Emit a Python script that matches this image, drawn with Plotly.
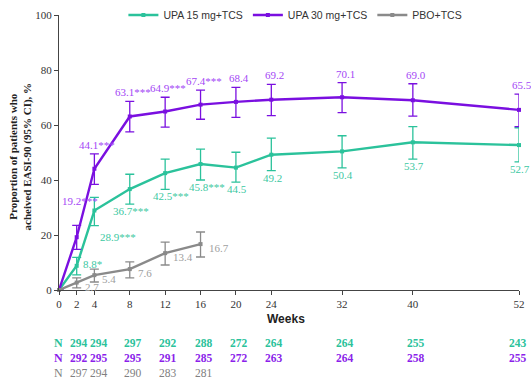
import plotly.graph_objects as go

# ---- data -------------------------------------------------------------
weeks = [0, 2, 4, 8, 12, 16, 20, 24, 32, 40, 52]
x_ticks = [0, 2, 4, 8, 12, 16, 20, 24, 32, 40, 52]

upa15 = [0, 8.8, 28.9, 36.7, 42.5, 45.8, 44.5, 49.2, 50.4, 53.7, 52.7]
upa15_hi = [0, 11.9, 33.7, 42.1, 47.6, 51.2, 50.1, 55.2, 56.1, 59.4, 59.0]
upa15_lo = [0, 5.5, 23.4, 31.2, 36.6, 40.0, 39.2, 43.4, 44.4, 47.6, 46.6]
upa15_sig = ["", "*", "***", "***", "***", "***", "", "", "", "", ""]

upa30 = [0, 19.2, 44.1, 63.1, 64.9, 67.4, 68.4, 69.2, 70.1, 69.0, 65.5]
upa30_hi = [0, 23.5, 49.5, 68.6, 70.1, 72.7, 73.7, 74.8, 75.4, 75.0, 71.2]
upa30_lo = [0, 14.8, 38.4, 57.5, 59.2, 62.1, 62.8, 63.4, 64.5, 63.2, 59.4]
upa30_sig = ["", "***", "***", "***", "***", "***", "", "", "", "", ""]

pbo_weeks = [0, 2, 4, 8, 12, 16]
pbo = [0, 2.7, 5.4, 7.6, 13.4, 16.7]
pbo_hi = [0, 4.4, 7.6, 10.2, 17.4, 21.1]
pbo_lo = [0, 0.8, 2.9, 4.4, 9.1, 12.0]

n_weeks = [2, 4, 8, 12, 16, 20, 24, 32, 40, 52]
n_upa15 = [294, 294, 297, 292, 288, 272, 264, 264, 255, 243]
n_upa30 = [292, 295, 295, 291, 285, 272, 263, 264, 258, 255]
n_pbo = [297, 294, 290, 283, 281]

# ---- styling ----------------------------------------------------------
TEAL, TEAL_TXT = "#2BC29B", "#3CC8A2"
PURPLE, PURPLE_TXT = "#7A0FE0", "#A447F5"
GRAY, GRAY_TXT = "#8A8A8A", "#A0A0A0"
SERIF = "Liberation Serif, Times New Roman, serif"
SANS = "Liberation Sans, Arial, sans-serif"

fig = go.Figure()


def add_series(x, y, hi, lo, color, name):
    fig.add_trace(go.Scatter(
        x=x, y=y, name=name, mode="lines+markers",
        line=dict(color=color, width=2.4),
        marker=dict(color=color, size=4, symbol="square"),
        error_y=dict(type="data", symmetric=False,
                     array=[h - v for h, v in zip(hi, y)],
                     arrayminus=[v - l for v, l in zip(y, lo)],
                     color=color, thickness=1.3, width=4.5),
        cliponaxis=False,
    ))


add_series(weeks, upa15, upa15_hi, upa15_lo, TEAL, "UPA 15 mg+TCS")
add_series(weeks, upa30, upa30_hi, upa30_lo, PURPLE, "UPA 30 mg+TCS")
add_series(pbo_weeks, pbo, pbo_hi, pbo_lo, GRAY, "PBO+TCS")

label_font = dict(family=SERIF, size=11)
ann = []

# UPA 30 labels sit above the upper whisker
for w, v, hi, s in zip(weeks, upa30, upa30_hi, upa30_sig):
    if w == 0:
        continue
    ys = 16 if w == 2 else 1
    ann.append(dict(x=w, y=hi, text=f"{v:.1f}{s}", showarrow=False,
                    xanchor="center", yanchor="bottom", xshift=3, yshift=ys,
                    font=dict(label_font, color=PURPLE_TXT)))

# UPA 15 labels sit below the lower whisker
for w, v, lo, s in zip(weeks, upa15, upa15_lo, upa15_sig):
    if w == 0:
        continue
    if w == 2:
        ann.append(dict(x=w, y=v, text=f"{v:.1f}{s}", showarrow=False,
                        xanchor="left", yanchor="middle", xshift=4, yshift=2,
                        font=dict(label_font, color=TEAL_TXT)))
    elif w == 4:
        ann.append(dict(x=w, y=lo, text=f"{v:.1f}{s}", showarrow=False,
                        xanchor="left", yanchor="top", xshift=4, yshift=-3,
                        font=dict(label_font, color=TEAL_TXT)))
    else:
        xs = 6 if w in (12, 16) else 1
        ann.append(dict(x=w, y=lo, text=f"{v:.1f}{s}", showarrow=False,
                        xanchor="center", yanchor="top", xshift=xs, yshift=1,
                        font=dict(label_font, color=TEAL_TXT)))

# placebo labels sit to the right of each point
for w, v in zip(pbo_weeks, pbo):
    if w == 0:
        continue
    ann.append(dict(x=w, y=v, text=f"{v:.1f}", showarrow=False,
                    xanchor="left", yanchor="middle", xshift=6, yshift=-4,
                    font=dict(label_font, color=GRAY_TXT)))

# N-at-risk rows under the axis
n_shift = {2: 2, 4: 5, 52: -1}
rows = [(n_weeks, n_upa15, TEAL, "bold", -0.193),
        (n_weeks, n_upa30, "#8B1FEA", "bold", -0.248),
        (n_weeks[:len(n_pbo)], n_pbo, "#808080", "normal", -0.302)]
for xs, ns, col, wt, yp in rows:
    ann.append(dict(x=0, y=yp, xref="x", yref="paper", text="N", showarrow=False,
                    xanchor="center", yanchor="middle", xshift=-1,
                    font=dict(family=SERIF, size=12, color=col, weight=wt)))
    for w, n in zip(xs, ns):
        ann.append(dict(x=w, y=yp, xref="x", yref="paper", text=str(n),
                        showarrow=False, xanchor="center", yanchor="middle",
                        xshift=n_shift.get(w, 3),
                        font=dict(family=SERIF, size=11.5, color=col, weight=wt)))

# axis titles
ann.append(dict(x=0.5, y=-0.105, xref="paper", yref="paper", text="<b>Weeks</b>",
                showarrow=False, xanchor="center", yanchor="middle", xshift=-3,
                font=dict(family=SANS, size=12, color="#222")))
ann.append(dict(x=0, y=0.5, xref="paper", yref="paper",
                text="<b>Proportion of patients who<br>acheived EASI-90 (95% CI), %</b>",
                showarrow=False, textangle=-90, xanchor="center", yanchor="middle",
                xshift=-39, yshift=-4,
                font=dict(family=SERIF, size=11, color="#222")))

fig.update_layout(
    width=531, height=385,
    margin=dict(l=59, r=12, t=15, b=95, autoexpand=False),
    paper_bgcolor="white", plot_bgcolor="white",
    showlegend=True,
    legend=dict(orientation="h", x=0.14, xanchor="left", y=1.0, yanchor="middle",
                font=dict(family=SANS, size=10.5, color="#333"),
                bgcolor="rgba(0,0,0,0)", itemwidth=30, tracegroupgap=0),
    annotations=ann,
    xaxis=dict(range=[0, 52], tickvals=x_ticks, ticktext=[str(t) for t in x_ticks],
               showgrid=False, zeroline=False, showline=True, linecolor="#444",
               linewidth=1, ticks="outside", ticklen=4, tickcolor="#444",
               tickfont=dict(family=SERIF, size=11, color="#333")),
    yaxis=dict(range=[0, 100], tickvals=[0, 20, 40, 60, 80, 100],
               showgrid=False, zeroline=False, showline=True, linecolor="#444",
               linewidth=1, ticks="outside", ticklen=4, tickcolor="#444",
               tickfont=dict(family=SERIF, size=11, color="#333")),
)

fig.write_html("out.html")
